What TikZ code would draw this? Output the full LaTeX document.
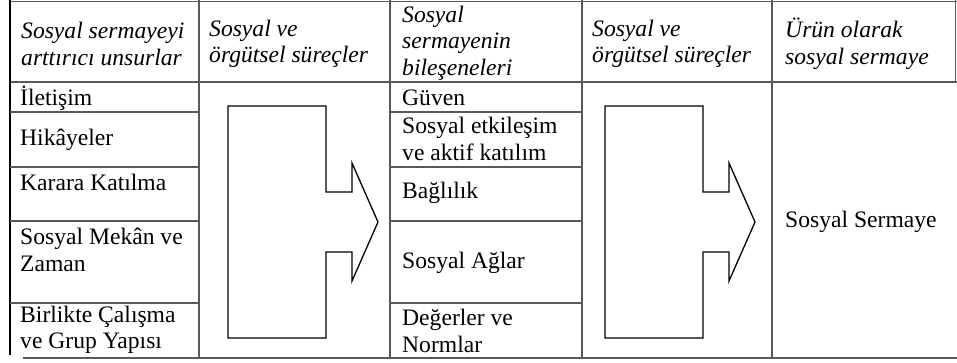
\documentclass[tikz,border=0pt]{standalone}
\usepackage{fontspec}
\setmainfont{Liberation Serif}
\usetikzlibrary{positioning}

\begin{document}
\begin{tikzpicture}[x=1pt,y=-1pt,
        cell/.style={anchor=west,inner sep=0pt,align=left,font=\fontsize{23.6}{26.5}\selectfont},
        head/.style={cell,font=\fontsize{23.6}{26.5}\selectfont\itshape},
        rule/.style={draw=black!65,line width=1.3pt}]
    \useasboundingbox (0,0) rectangle (957,362);
    % table lines
    \draw[rule] (10,1.5) -- (957,1.5);
    \draw[rule] (10,82) -- (957,82);
    \draw[rule] (23,358) -- (957,358);
    \draw[rule] (955.5,0) -- (955.5,82);
    \draw[line width=2.5pt] (10,0) -- (10,355);
    \foreach \x in {199,390,582,772}
        \draw[rule] (\x,0) -- (\x,358);
    \foreach \y in {112,167,221,303}
    {
        \draw[rule] (10,\y) -- (199,\y);
        \draw[rule] (390,\y) -- (582,\y);
    }
    % block arrows
    \foreach \s in {0,377}
        \draw[line width=1.3pt,shift={(\s,0)}]
            (228,106) -- (326,106) -- (326,192) -- (352,192) -- (352,163)
            -- (378,222) -- (352,281) -- (352,252) -- (326,252) -- (326,338)
            -- (228,338) -- cycle;
    % header
    \node[head] (hunsur) at (21,44) {Sosyal sermayeyi\\arttırıcı unsurlar};
    \node[head] (hsurecA) at (209,44) {Sosyal ve\\örgütsel süreçler};
    \node[head] (hbilesen) at (402,43) {Sosyal\\sermayenin\\bileşeneleri};
    \node[head] (hsurecB) at (592,44) {Sosyal ve\\örgütsel süreçler};
    \node[head] (hurun) at (785,44) {Ürün olarak\\sosyal sermaye};
    % first column
    \node[cell] (iletisim) at (20,98) {İletişim};
    \node[cell] (hikaye) at (20,140) {Hikâyeler};
    \node[cell] (karar) at (20,182) {Karara Katılma};
    \node[cell] (mekan) at (20,250) {Sosyal Mekân ve\\Zaman};
    \node[cell] (birlikte) at (20,330) {Birlikte Çalışma\\ve Grup Yapısı};
    % third column
    \node[cell] (guven) at (402,98) {Güven};
    \node[cell] (etkilesim) at (402,139) {Sosyal etkileşim\\ve aktif katılım};
    \node[cell] (baglilik) at (402,193) {Bağlılık};
    \node[cell] (aglar) at (402,263) {Sosyal Ağlar};
    \node[cell] (degerler) at (402,331) {Değerler ve\\Normlar};
    % last column
    \node[cell] (sermaye) at (785,222) {Sosyal Sermaye};
\end{tikzpicture}
\end{document}
